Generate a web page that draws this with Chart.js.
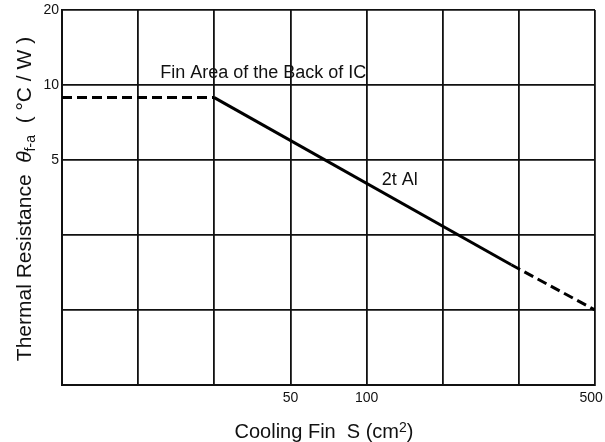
<!DOCTYPE html>
<html>
<head>
<meta charset="utf-8">
<script src="https://cdn.jsdelivr.net/npm/chart.js@4.4.1/dist/chart.umd.min.js"></script>
<style>
html, body { margin: 0; padding: 0; background: #fff; }
#wrap { width: 605px; height: 442px; }
</style>
</head>
<body>
<div id="wrap"><canvas id="chart" width="605" height="442"></canvas></div>
<script>
// x axis is drawn on evenly spaced grid columns (0..7)
const xGrid = [0, 1, 2, 3, 4, 5, 6, 7]
const xTickLabels = ["", "", "", "50", "100", "", "", "500"]

// y axis: log scale, each grid row is a factor of 2
const yGrid = [0.625, 1.25, 2.5, 5, 10, 20]
const yTickLabels = { 20: "20", 10: "10", 5: "5" }

// curve
const backOfIcX = [0, 2]
const backOfIcY = [8.9, 8.9]
const finX = [2, 5.9]
const finY = [8.9, 1.9]
const extX = [5.9, 7]
const extY = [1.9, 1.25]

const pts = (xs, ys) => xs.map((x, i) => ({ x: x, y: ys[i] }))

const FONT = "'Liberation Sans', Arial, Helvetica, sans-serif"
const NARROW = "'Liberation Sans Narrow', 'Arial Narrow', " + FONT

// axis titles and notes (need sub/superscripts so drawn by hand)
const textPlugin = {
  id: "texts",
  afterDraw(chart) {
    const c = chart.ctx
    const xs = chart.scales.x
    const ys = chart.scales.y
    c.save()
    c.fillStyle = "#111"
    c.textBaseline = "alphabetic"

    // notes on the plot
    c.font = "18px " + FONT
    c.textAlign = "left"
    c.fillText("Fin Area of the Back of IC", xs.getPixelForValue(1.29), ys.getPixelForValue(11.3) + 6)
    c.fillText("2t Al", xs.getPixelForValue(4.2), ys.getPixelForValue(4.24) + 7)

    // x title
    const big = "20px " + FONT
    const small = "14px " + FONT
    const xa = "Cooling Fin  S (cm"
    const xb = "2"
    const xc = ")"
    c.font = big
    const wa = c.measureText(xa).width
    const wc = c.measureText(xc).width
    c.font = small
    const wb = c.measureText(xb).width
    let x0 = 324 - (wa + wb + wc) / 2
    const base = 438
    c.font = big
    c.fillText(xa, x0, base)
    c.font = small
    c.fillText(xb, x0 + wa, base - 6)
    c.font = big
    c.fillText(xc, x0 + wa + wb, base)

    // y title, rotated
    const parts = [
      ["Thermal Resistance  ", "21px " + FONT],
      ["\u03b8", "italic 21px " + FONT],
      ["f-a", "14px " + FONT, 4],
      ["  ( \u00b0C / W )", "21px " + FONT]
    ]
    let total = 0
    parts.forEach(p => { c.font = p[1]; total += c.measureText(p[0]).width })
    c.translate(31, 199)
    c.rotate(-Math.PI / 2)
    let px = -total / 2
    parts.forEach(p => {
      c.font = p[1]
      c.fillText(p[0], px, p[2] || 0)
      px += c.measureText(p[0]).width
    })
    c.restore()
  }
}

new Chart(document.getElementById("chart"), {
  type: "line",
  data: {
    datasets: [
      {
        data: pts(backOfIcX, backOfIcY),
        borderColor: "#000",
        borderWidth: 3,
        borderDash: [10, 5],
        pointRadius: 0
      },
      {
        data: pts(finX, finY),
        borderColor: "#000",
        borderWidth: 3,
        pointRadius: 0
      },
      {
        data: pts(extX, extY),
        borderColor: "#000",
        borderWidth: 3,
        borderDash: [10, 5],
        pointRadius: 0
      }
    ]
  },
  options: {
    responsive: false,
    animation: false,
    devicePixelRatio: 1,
    layout: { padding: { top: 10, right: 10, left: 0, bottom: 0 } },
    plugins: {
      legend: { display: false },
      tooltip: { enabled: false }
    },
    scales: {
      x: {
        type: "linear",
        min: 0,
        max: 7,
        afterBuildTicks: s => { s.ticks = xGrid.map(v => ({ value: v })) },
        afterFit: s => { s.height = 57; s.paddingLeft = 0; s.paddingRight = 0 },
        grid: { color: "#111", lineWidth: 1.8, drawTicks: false },
        border: { color: "#111", width: 2 },
        ticks: {
          color: "#111",
          font: { family: FONT, size: 14 },
          padding: 5,
          maxRotation: 0,
          autoSkip: false,
          // last label sits at the canvas edge, nudge it left with trailing spaces
          callback: (v) => (xTickLabels[v] || "") + (v === 7 ? "\u00a0\u00a0" : "")
        }
      },
      y: {
        type: "logarithmic",
        bounds: "data",
        min: 0.625,
        max: 20,
        afterBuildTicks: s => { s.ticks = yGrid.map(v => ({ value: v })) },
        afterFit: s => { s.width = 62; s.paddingTop = 0; s.paddingBottom = 0 },
        grid: { color: "#111", lineWidth: 1.8, drawTicks: false },
        border: { color: "#111", width: 2 },
        ticks: {
          color: "#111",
          font: { family: NARROW, size: 14 },
          padding: 3,
          autoSkip: false,
          callback: (v) => yTickLabels[v] || ""
        }
      }
    }
  },
  plugins: [textPlugin]
})
</script>
</body>
</html>
